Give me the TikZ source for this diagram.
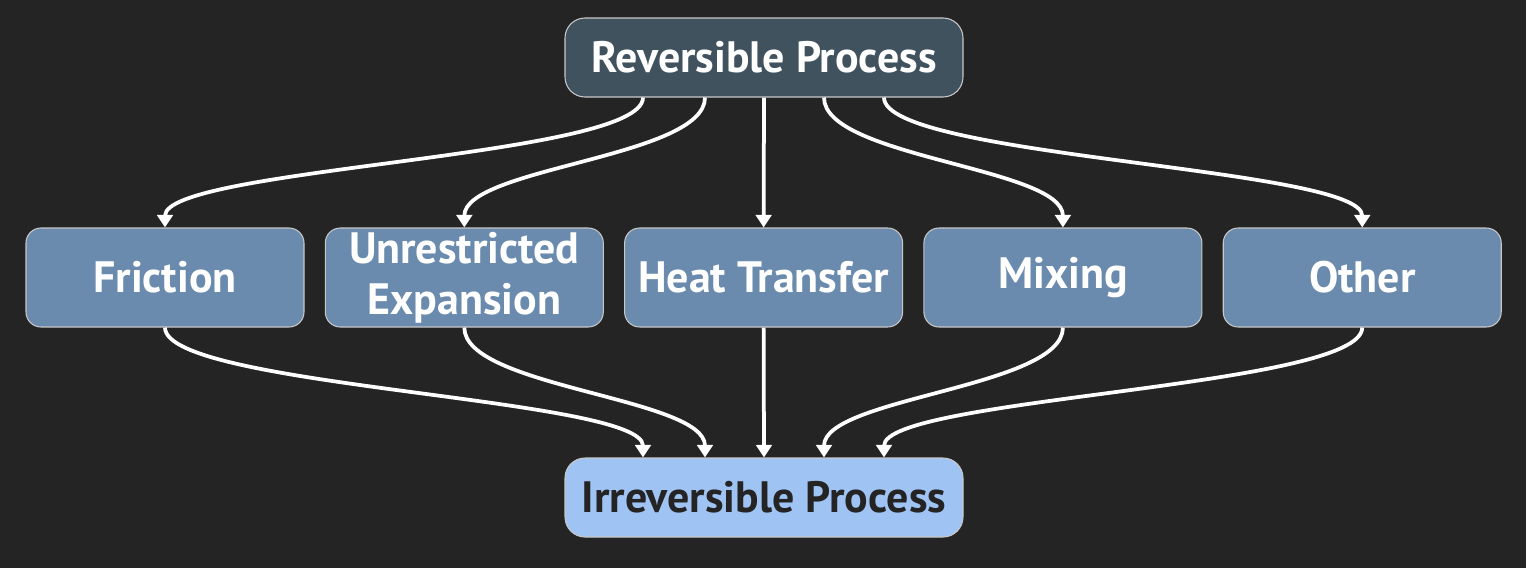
\documentclass[tikz,border=0pt]{standalone}
\usepackage{fontspec}
\setmainfont{PT Sans}
\usetikzlibrary{arrows.meta,positioning}
\definecolor{bgdark}{HTML}{242424}
\definecolor{revfill}{HTML}{41525F}
\definecolor{causefill}{HTML}{6A8BAD}
\definecolor{irrfill}{HTML}{9FC3F3}
\definecolor{edgegray}{HTML}{C8C8C8}
\tikzset{
  process/.style={
    shape = rectangle,
    draw = edgegray,
    line width = 0.6pt,
    rounded corners = 0.4cm,
    minimum width = 7.96cm,
    minimum height = 1.58cm,
    font = \fontsize{25}{29}\selectfont\bfseries
  },
  cause/.style={
    shape = rectangle,
    draw = edgegray,
    line width = 0.6pt,
    rounded corners = 0.3cm,
    fill = causefill,
    text = white,
    align = center,
    minimum width = 5.56cm,
    minimum height = 1.98cm,
    inner sep = 0pt,
    font = \fontsize{25}{29}\selectfont\bfseries
  },
  flow/.style={
    draw = white,
    line width = 0.075cm,
    -{Triangle[length=0.25cm,width=0.31cm]}
  }
}
\begin{document}
\begin{tikzpicture}[node distance=0.405cm]
\fill[bgdark] (0,0) rectangle (30.52,11.36);
\useasboundingbox (0,0) rectangle (30.52,11.36);

       \node[process, fill=revfill, text=white] (rev) at (15.28,10.21) {Reversible Process};

       \node[cause] (fric) at (3.30,5.81) {Friction};
       \node[cause, right=of fric] (unre) {Unrestricted\\Expansion};
       \node[cause, right=of unre] (heat) {Heat Transfer};
       \node[cause, right=of heat] (mix) {Mixing};
       \node[cause, right=of mix] (oth) {Other};

       \node[process, fill=irrfill, text=bgdark] (irr) at (15.28,1.41) {Irreversible Process};

       % down from the reversible process
       \draw[flow] ([xshift=-2.42cm]rev.south) .. controls +(0,-1.2) and +(0,1.2) .. (fric.north);
       \draw[flow] ([xshift=-1.18cm]rev.south) .. controls +(0,-1.2) and +(0,1.2) .. (unre.north);
       \draw[flow] (rev.south) -- (heat.north);
       \draw[flow] ([xshift=1.2cm]rev.south) .. controls +(0,-1.2) and +(0,1.2) .. (mix.north);
       \draw[flow] ([xshift=2.4cm]rev.south) .. controls +(0,-1.2) and +(0,1.2) .. (oth.north);

       % into the irreversible process
       \draw[flow] (fric.south) .. controls +(0,-1.2) and +(0,1.2) .. ([xshift=-2.42cm]irr.north);
       \draw[flow] (unre.south) .. controls +(0,-1.2) and +(0,1.2) .. ([xshift=-1.18cm]irr.north);
       \draw[flow] (heat.south) -- (irr.north);
       \draw[flow] (mix.south) .. controls +(0,-1.2) and +(0,1.2) .. ([xshift=1.2cm]irr.north);
       \draw[flow] (oth.south) .. controls +(0,-1.2) and +(0,1.2) .. ([xshift=2.4cm]irr.north);

\end{tikzpicture}
\end{document}
